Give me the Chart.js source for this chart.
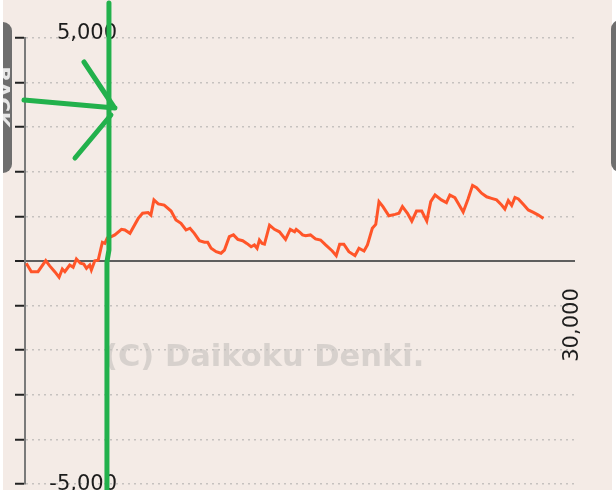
<!DOCTYPE html>
<html>
<head>
<meta charset="utf-8">
<script src="https://cdn.jsdelivr.net/npm/chart.js@4"></script>
<style>
  html, body { margin: 0; padding: 0; background: #ffffff; }
  #wrap { position: relative; width: 616px; height: 490px; }
  canvas { display: block; }
</style>
</head>
<body>
<div id="wrap"><canvas id="c" width="616" height="490"></canvas></div>
<script>
// ---- data (games played vs. medal difference) ----
const games = [70,350,720,1150,1370,1650,1890,2070,2210,2480,2670,2850,3070,3260,3410,3590,3680,3870,4060,4290,4430,4560,4790,4980,5350,5540,5820,6280,6520,6830,6980,7150,7390,7720,8100,8370,8650,8930,9150,9390,9670,9950,10130,10320,10600,10870,11060,11330,11560,11800,12070,12300,12540,12720,12870,13000,13150,13280,13560,13830,14110,14450,14710,14950,15040,15230,15390,15560,15830,16110,16390,16670,17040,17260,17450,17680,17960,18300,18520,18800,18990,19260,19450,19630,19850,20180,20520,20740,20930,21210,21450,21710,22000,22280,22500,22740,23090,23370,23560,23840,24020,24300,24570,24820,25040,25320,25600,25870,26150,26430,26610,26800,26990,27170,27360,27630,27910,28190,28470,28750];
const medals = [-50,-240,-240,10,-110,-240,-365,-180,-240,-90,-140,45,-50,-70,-165,-90,-200,5,20,420,395,515,545,585,710,695,620,955,1070,1085,1030,1370,1280,1255,1120,920,845,695,735,620,455,420,420,285,210,175,245,545,585,485,455,395,320,360,285,470,395,380,805,710,655,485,710,655,710,650,585,565,585,495,470,360,225,120,375,375,210,120,285,225,360,735,820,1330,1220,1015,1045,1070,1220,1070,895,1120,1120,895,1330,1480,1370,1310,1480,1420,1295,1100,1390,1695,1645,1520,1440,1405,1370,1255,1165,1355,1245,1425,1390,1270,1145,1090,1030,955];
const yTickLabels = ["5,000", "-5,000"];
const yTickValues = [5000, -5000];
const xTickLabel = "30,000";
const xTickValue = 30000;
const watermark = "(C) Daikoku Denki.";
const tabLabels = ["BACK", "NEXT"];

const points = games.map((g, i) => ({ x: g, y: medals[i] }));

const BG = '#f4ebe6';
const FONT = '"DejaVu Sans", Verdana, sans-serif';

const decor = {
  id: 'decor',
  beforeDraw(chart) {
    const ctx = chart.ctx;
    ctx.save();
    ctx.fillStyle = '#ffffff';
    ctx.fillRect(0, 0, chart.width, chart.height);
    ctx.fillStyle = BG;
    ctx.fillRect(3, 0, 609, chart.height);
    // watermark
    ctx.fillStyle = '#d7d1cd';
    ctx.font = 'bold 30.5px ' + FONT;
    ctx.textAlign = 'left';
    ctx.textBaseline = 'alphabetic';
    ctx.fillText(watermark, 104, 366);
    ctx.restore();
  },
  afterDraw(chart) {
    const ctx = chart.ctx;
    const ys = chart.scales.y, xs = chart.scales.x;
    const area = chart.chartArea;
    ctx.save();
    // y labels
    ctx.fillStyle = '#1c1c1c';
    ctx.font = '21px ' + FONT;
    ctx.textAlign = 'right';
    ctx.textBaseline = 'middle';
    ctx.fillText(yTickLabels[0], 117, ys.getPixelForValue(yTickValues[0]) - 4);
    ctx.fillText(yTickLabels[1], 117, ys.getPixelForValue(yTickValues[1]) + 1);
    // x label rotated
    ctx.save();
    ctx.translate(Math.min(xs.getPixelForValue(xTickValue) + 7, area.right - 1), ys.getPixelForValue(0) + 64);
    ctx.rotate(-Math.PI / 2);
    ctx.textAlign = 'center';
    ctx.textBaseline = 'middle';
    ctx.fillText(xTickLabel, 0, 0);
    ctx.restore();

    // side tabs
    ctx.fillStyle = '#6e6e6e';
    ctx.beginPath();
    ctx.roundRect(-20, 22, 32, 151, 9);
    ctx.fill();
    ctx.beginPath();
    ctx.roundRect(611, 20, 30, 152, 9);
    ctx.fill();
    ctx.fillStyle = '#e8e8e8';
    ctx.font = 'bold 20px ' + FONT;
    ctx.textAlign = 'center';
    ctx.textBaseline = 'middle';
    ctx.save();
    ctx.translate(1, 97);
    ctx.rotate(Math.PI / 2);
    ctx.fillText(tabLabels[0], 0, 0);
    ctx.restore();
    ctx.save();
    ctx.translate(622, 96);
    ctx.rotate(Math.PI / 2);
    ctx.fillText(tabLabels[1], 0, 0);
    ctx.restore();
    ctx.fillStyle = '#ffffff';
    ctx.fillRect(0, 0, 3, chart.height);

    // green annotation
    const gx = xs.getPixelForValue(4600);
    ctx.strokeStyle = '#22b14c';
    ctx.lineWidth = 5;
    ctx.lineCap = 'round';
    ctx.beginPath();
    ctx.moveTo(gx + 1, 3);
    ctx.lineTo(gx + 1, 250);
    ctx.lineTo(gx - 1, 262);
    ctx.lineTo(gx - 1, 492);
    ctx.stroke();
    ctx.beginPath();
    ctx.moveTo(24, 100);
    ctx.lineTo(gx + 7, 108);
    ctx.moveTo(84, 62);
    ctx.lineTo(gx + 6, 107);
    ctx.moveTo(75, 158);
    ctx.lineTo(gx + 3, 115);
    ctx.stroke();
    ctx.restore();
  }
};

new Chart(document.getElementById('c'), {
  type: 'line',
  data: {
    datasets: [{
      data: points,
      borderColor: '#ff5529',
      borderWidth: 3,
      pointRadius: 0,
      tension: 0,
      fill: false
    }]
  },
  options: {
    responsive: false,
    animation: false,
    events: [],
    layout: { padding: { left: 15, right: 41, top: 38, bottom: 6 } },
    plugins: { legend: { display: false }, tooltip: { enabled: false } },
    scales: {
      x: { type: 'linear', min: 0, max: 30500, display: false },
      y: {
        min: -5000, max: 5000,
        ticks: { stepSize: 1000, display: false },
        grid: {
          drawTicks: true,
          tickLength: 10,
          tickColor: '#222222',
          tickWidth: 2,
          color: c => c.tick && c.tick.value === 0 ? '#5e5e5e' : '#c6c2bf',
          lineWidth: c => c.tick && c.tick.value === 0 ? 2 : 1.5
        },
        border: {
          display: true,
          color: '#7a7a7a',
          width: 2,
          dash: c => c.tick && c.tick.value === 0 ? [] : [2, 4]
        }
      }
    }
  },
  plugins: [decor]
});
</script>
</body>
</html>
